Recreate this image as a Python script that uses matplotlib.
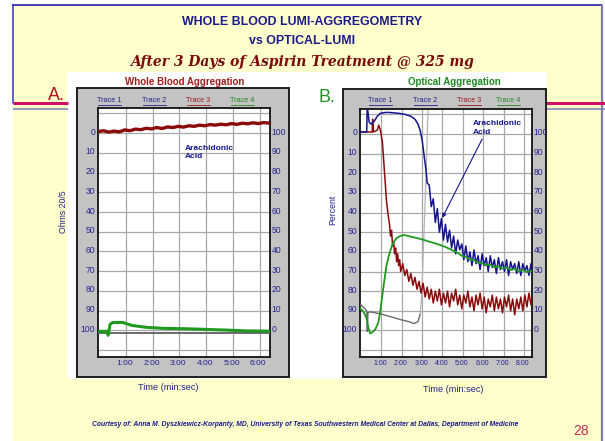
import matplotlib
matplotlib.use('Agg')
import matplotlib.pyplot as plt
from matplotlib.patches import Rectangle
from matplotlib import font_manager

# ── data ────────────────────────────────────────────────────────────────
# Whole blood panel (Ohms, minutes)
wb_red_t = [0.0, 0.2, 0.4, 0.6, 0.8, 1.0, 1.2, 1.4, 1.6, 1.8, 2.0, 2.2, 2.4, 2.6, 2.8, 3.0,
            3.2, 3.4, 3.6, 3.8, 4.0, 4.2, 4.4, 4.6, 4.8, 5.0, 5.2, 5.4, 5.6, 5.8, 6.0, 6.2, 6.44]
wb_red_v = [0.3, -0.2, 0.5, 0.0, 0.4, -0.6, -0.2, -1.0, -0.7, -1.4, -1.1, -1.8, -1.3, -2.1, -1.8, -2.4,
            -2.0, -2.7, -2.4, -3.0, -2.7, -3.3, -3.0, -3.5, -3.2, -3.8, -3.4, -4.0, -3.7, -4.2, -3.8, -4.3, -4.0]
wb_green_t = [0, 0.33, 0.38, 0.45, 0.55, 0.93, 1.27, 1.83, 2.5, 3.33, 4.0, 4.7, 5.6, 6.44]
wb_green_v = [101.5, 101.5, 103.5, 98, 97, 97, 98.5, 99.5, 100, 100.2, 100.5, 100.8, 101.3, 101.4]
wb_gray_t = [0, 6.44]
wb_gray_v = [102.3, 102.3]

# Optical panel (Percent, minutes)
op_blue_t = [0, 0.33, 0.35, 0.38, 0.45, 0.55, 0.7, 0.85, 1.0, 1.3, 1.6, 1.9, 2.2, 2.5, 2.7, 2.85,
             2.95, 3.05, 3.15, 3.25, 3.3, 3.4, 3.5, 3.6, 3.7, 3.8, 3.9, 4.0, 4.1, 4.2, 4.3, 4.4,
             4.5, 4.6, 4.7, 4.8, 4.9, 5.0, 5.1, 5.2, 5.3, 5.4, 5.5, 5.6, 5.7, 5.8, 5.9, 6.0,
             6.1, 6.2, 6.3, 6.4, 6.5, 6.6, 6.7, 6.8, 6.9, 7.0, 7.1, 7.2, 7.3, 7.4, 7.5, 7.6,
             7.7, 7.8, 7.9, 8.0, 8.1, 8.2, 8.3, 8.4, 8.45]
op_blue_v = [0, 0, -11, -11, -5, -4, -5.5, -8, -9.5, -10, -9.8, -9.5, -9, -8, -6.5, -4,
             -1, 4, 12, 20, 26, 27, 38, 34, 46, 39, 51, 44, 55, 47, 56, 50,
             59, 53, 62, 55, 60, 57, 65, 58, 66, 61, 68, 60, 67, 63, 70, 62,
             68, 64, 71, 63, 69, 65, 72, 64, 70, 66, 71, 65, 73, 66, 70, 67,
             72, 66, 73, 67, 71, 68, 73, 67, 71]
op_red_t = [0, 0.6, 0.62, 0.66, 0.85, 0.92, 1.0, 1.1, 1.2, 1.3, 1.38, 1.45, 1.5, 1.55, 1.6, 1.65,
            1.7, 1.75, 1.8, 1.85, 1.9, 1.95, 2.0, 2.1, 2.2, 2.3, 2.4, 2.5, 2.6, 2.7, 2.8, 2.9,
            3.0, 3.1, 3.2, 3.3, 3.4, 3.5, 3.6, 3.7, 3.8, 3.9, 4.0, 4.1, 4.2, 4.3, 4.4, 4.5,
            4.6, 4.7, 4.8, 4.9, 5.0, 5.1, 5.2, 5.3, 5.4, 5.5, 5.6, 5.7, 5.8, 5.9, 6.0, 6.1,
            6.2, 6.3, 6.4, 6.5, 6.6, 6.7, 6.8, 6.9, 7.0, 7.1, 7.2, 7.3, 7.4, 7.5, 7.6, 7.7,
            7.8, 7.9, 8.0, 8.1, 8.2, 8.3, 8.4, 8.45]
op_red_v = [0, 0, -6.5, 0, -1, -3.5, -1, 5, 20, 35, 42, 47, 53, 50, 58, 56,
            62, 59, 66, 62, 68, 65, 71, 67, 73, 70, 76, 72, 78, 74, 80, 76,
            82, 77, 84, 79, 85, 80, 87, 81, 86, 80, 88, 82, 87, 81, 89, 82,
            86, 80, 88, 83, 90, 83, 87, 81, 89, 84, 91, 83, 88, 82, 90, 84,
            92, 85, 89, 83, 91, 84, 90, 85, 92, 84, 89, 83, 91, 85, 93, 85,
            90, 84, 91, 83, 89, 82, 88, 84]
op_green_t = [0, 0.2, 0.33, 0.42, 0.5, 0.6, 0.75, 0.9, 1.0, 1.15, 1.3, 1.4, 1.55, 1.65, 1.8, 1.9,
              2.1, 2.2, 2.6, 3.0, 3.4, 3.8, 4.2, 4.6, 4.8, 5.0, 5.2, 5.4, 5.6, 5.8, 6.0, 6.2,
              6.4, 6.6, 6.8, 7.0, 7.2, 7.4, 7.6, 7.8, 8.0, 8.2, 8.45]
op_green_v = [89.5, 92, 95, 100, 102.5, 102, 100.5, 97, 91, 79, 68, 63.5, 58.5, 56, 54, 53.3,
              52.5, 52.5, 53.5, 54.5, 55.8, 57, 58.5, 60.5, 61.5, 63, 63.5, 65, 65.2, 66.5, 66.8, 67.8,
              67.5, 68.8, 68.4, 69.5, 69, 70.2, 69.6, 70.8, 70.2, 71.3, 70.8]
op_gray_t = [0, 0.25, 0.33, 0.36, 0.39, 0.5, 1.0, 1.5, 2.0, 2.4, 2.65, 2.85, 2.95, 3.02, 3.08,
             3.15, 3.25, 3.32, 3.35]
op_gray_v = [87.5, 90, 91, 101.5, 92, 91.5, 92.5, 94, 95.5, 96.5, 97.5, 96.5, 93, 85, 70,
             50, 20, -5, -12]
GRAY_SPLIT = 13   # where the gray trace turns into the faint vertical sweep

wb_time_ticks = [1, 2, 3, 4, 5, 6]
op_time_ticks = [1, 2, 3, 4, 5, 6, 7, 8]
y_ticks = [0, 10, 20, 30, 40, 50, 60, 70, 80, 90, 100]

# ── setup ───────────────────────────────────────────────────────────────
W, H, DPI = 605, 441, 100
names = {f.name for f in font_manager.fontManager.ttflist}
NARROW = 'Liberation Sans Narrow' if 'Liberation Sans Narrow' in names else 'Liberation Sans'

NAVY = '#23238f'
BLUE = '#14148c'
RED = '#8b0a0a'
GREEN = '#1f9a1f'
GRAY = '#6a6a6a'

fig = plt.figure(figsize=(W / DPI, H / DPI), dpi=DPI, facecolor='white')
bg = fig.add_axes([0, 0, 1, 1])
bg.set_xlim(0, W)
bg.set_ylim(H, 0)
bg.axis('off')


def tx(x, y, s, fs, col, fw='normal', ha='center', va='center', fam=NARROW, style='normal', rot=0):
    bg.text(x, y, s, fontsize=fs, color=col, fontweight=fw, ha=ha, va=va,
            family=fam, style=style, rotation=rot, zorder=6)


def rect(x, y, w, h, fc, ec='none', lw=0, z=1):
    bg.add_patch(Rectangle((x, y), w, h, fc=fc, ec=ec, lw=lw, zorder=z))


# slide background and border
rect(13, 4.5, 589, 437, '#ffffcc', z=0)
bg.plot([13, 602], [4.5, 4.5], color='#3535b5', lw=1.3, zorder=2)
bg.plot([602, 602], [4.5, 441], color='#8080b0', lw=1.6, zorder=2)
bg.plot([13, 13], [4.5, 103], color='#3535b5', lw=1.1, zorder=2)

# accent lines left/right of the picture
for xa, xb in [(13, 68), (546, 605)]:
    bg.plot([xa, xb], [103, 103], color='#cc1166', lw=2.2, zorder=2, solid_capstyle='butt')
    bg.plot([xa, xb], [109, 109], color='#7a7ab8', lw=1.1, zorder=2, solid_capstyle='butt')

# titles
tx(302, 22, 'WHOLE BLOOD LUMI-AGGREGOMETRY', 8.9, '#1a1a8c', fw='bold')
tx(302, 41, 'vs OPTICAL-LUMI', 8.9, '#1a1a8c', fw='bold')
tx(302, 62, 'After 3 Days of Aspirin Treatment @ 325 mg', 10, '#7a0a0a', fw='bold',
   fam='DejaVu Serif', style='italic')

# white picture area and gray instrument frames
rect(67, 72, 480, 307, 'white', z=1)
rect(77, 88, 212, 289, '#c3c3c3', ec='#1e1e1e', lw=1.4, z=2)
rect(343, 89, 203, 288, '#c3c3c3', ec='#1e1e1e', lw=1.4, z=2)

tx(185, 82, 'Whole Blood Aggregation', 7.0, '#a01c1c', fw='bold')
tx(454, 82, 'Optical Aggregation', 7.0, '#1f8a1f', fw='bold')
tx(48, 96, 'A.', 13, '#b0141e', ha='left')
tx(318, 98, 'B.', 13, '#228b22', ha='left')

# trace legends (underlined)
trace_cols = [NAVY, NAVY, '#a01c1c', '#1f8a1f']
for centers in ([109, 154, 198, 242], [380, 425, 469, 508]):
    for k, (cx, col) in enumerate(zip(centers, trace_cols)):
        tx(cx, 100, f'Trace {k + 1}', 5.2, col)
        bg.plot([cx - 11.5, cx + 11.5], [104.5, 104.5], color=col, lw=0.6, zorder=6)

tx(64, 212, 'Ohms 20/5', 6.3, NAVY, rot=90)
tx(333, 210, 'Percent', 6.3, NAVY, rot=90)
tx(168, 388, 'Time (min:sec)', 6.6, NAVY)
tx(453, 389, 'Time (min:sec)', 6.6, NAVY)

tx(305, 424, 'Courtesy of: Anna M. Dyszkiewicz-Korpanty, MD, University of Texas Southwestern '
   'Medical Center at Dallas, Department of Medicine', 4.85, '#1a1a8c', fw='bold', style='italic')
tx(581, 431, '28', 10, '#cc2a5a')


# ── chart axes ──────────────────────────────────────────────────────────
def chart(x0, y0, x1, y1, xmax, xticks, tfs):
    ax = fig.add_axes([x0 / W, 1 - y1 / H, (x1 - x0) / W, (y1 - y0) / H])
    ax.set_facecolor('white')
    ax.set_xlim(0, xmax)
    ax.set_ylim(114.5, -11.7)
    grid_y = [-9, 1, 11, 21, 31, 41, 51, 61, 71, 81, 91, 101, 111]
    for g in grid_y:
        ax.axhline(g, color='#a8a8a8', lw=0.9, zorder=1)
    for g in xticks:
        ax.axvline(g + 0.05, color='#a8a8a8', lw=0.9, zorder=1)
    ax.set_yticks(y_ticks)
    ax.set_yticklabels([str(v) for v in y_ticks], fontsize=6.2, color=NAVY, family=NARROW)
    ax.set_xticks(xticks)
    ax.set_xticklabels([f'{m}:00' for m in xticks], fontsize=tfs, color=NAVY, family=NARROW)
    ax.tick_params(length=0, pad=2)
    for s in ax.spines.values():
        s.set_color('#111111')
        s.set_linewidth(1.3)
    ax2 = ax.twinx()
    ax2.set_ylim(114.5, -11.7)
    ax2.set_yticks(y_ticks)
    ax2.set_yticklabels([str(100 - v) for v in y_ticks], fontsize=6.2, color=NAVY, family=NARROW)
    ax2.tick_params(length=0, pad=1)
    for s in ax2.spines.values():
        s.set_visible(False)
    return ax


ax1 = chart(98, 108, 270, 357, 6.44, wb_time_ticks, 6.0)
ax1.plot(wb_gray_t, wb_gray_v, color=GRAY, lw=1.4, zorder=3)
ax1.plot(wb_green_t, wb_green_v, color=GREEN, lw=2.2, zorder=4)
ax1.plot(wb_red_t, wb_red_v, color=RED, lw=2.4, zorder=4)
ax1.text(3.26, 11, 'Arachidonic\nAcid', fontsize=6.0, fontweight='bold', color=BLUE,
         family=NARROW, ha='left', va='center', linespacing=1.25, zorder=6)

ax2 = chart(360, 109, 532, 357, 8.45, op_time_ticks, 5.0)
ax2.plot(op_gray_t[:GRAY_SPLIT], op_gray_v[:GRAY_SPLIT], color=GRAY, lw=1.0, zorder=3)
ax2.plot(op_gray_t[GRAY_SPLIT - 1:], op_gray_v[GRAY_SPLIT - 1:], color='#b4b4b4', lw=0.9, zorder=2)
ax2.plot(op_red_t, op_red_v, color=RED, lw=1.1, zorder=4)
ax2.plot(op_green_t, op_green_v, color=GREEN, lw=1.3, zorder=5)
ax2.plot(op_blue_t, op_blue_v, color=BLUE, lw=1.1, zorder=4)
ax2.text(5.56, -2, 'Arachidonic\nAcid', fontsize=6.0, fontweight='bold', color=BLUE,
         family=NARROW, ha='left', va='center', linespacing=1.25, zorder=6)
ax2.annotate('', xy=(4.04, 43.7), xytext=(6.0, 3.6),
             arrowprops=dict(arrowstyle='-|>', color=BLUE, lw=0.8, mutation_scale=6,
                             shrinkA=0, shrinkB=0), zorder=6)

fig.savefig('out.png', dpi=DPI, facecolor='white')
